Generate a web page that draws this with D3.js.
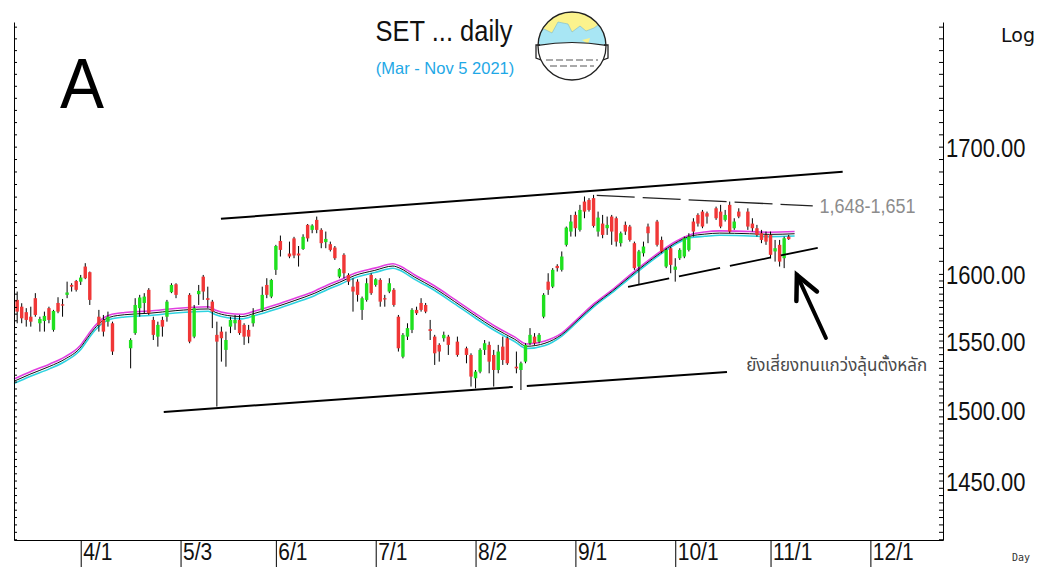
<!DOCTYPE html>
<html><head><meta charset="utf-8">
<script src="https://cdn.jsdelivr.net/npm/d3@7"></script>
<style>body{margin:0;background:#fff} svg{display:block}</style>
</head><body><svg id="chart" width="1038" height="567"></svg>
<script>
// ---------------- DATA ----------------
const startDate = "2021-03-12";          // first weekday slot shown
// daily OHLC per weekday slot (null = market holiday)
const open = [
1580.3,1575.2,1571.1,1567.7,1581.6,1562.8,1564.5,1574.1,1557.9,1578.0,
1577.0,1584.1,1591.6,1594.6,1594.1,1605.6,1601.3,null,1567.7,1565.3,
1564.0,1562.8,null,null,null,1544.3,1555.5,1574.1,1578.0,1587.9,
1565.3,1552.9,1565.3,1567.7,1586.1,1592.1,null,null,1584.1,1552.9,
1584.6,1597.9,1581.6,1579.0,1554.2,1556.6,1543.1,1560.3,1562.8,1565.3,
1561.6,1557.9,1562.8,null,1572.8,1591.6,1582.8,1603.1,1625.3,null,
1615.6,1627.3,1615.6,1619.1,1637.8,1633.9,1641.7,1633.9,1624.4,1622.8,
1620.2,1597.9,1614.6,1599.2,1590.3,1594.1,1572.8,1580.3,1599.2,1591.6,
1595.4,1581.6,1586.6,1587.9,1567.7,1538.1,1552.9,1557.9,1572.8,1578.0,
1576.5,1558.4,1552.9,1546.8,1551.7,1552.9,null,1549.2,null,1544.3,
1539.4,1522.4,1527.2,1543.1,1546.8,1539.4,1528.4,1545.5,1551.7,null,
1530.8,1528.4,1534.5,1548.0,1552.9,1549.2,1567.7,1594.1,1590.3,1606.1,
1603.1,1622.3,1632.6,1645.6,1633.9,1656.1,1657.4,1658.8,1632.6,1638.8,
1635.2,1644.3,1643.0,1623.6,1637.8,1636.5,1623.6,1605.6,1615.8,1636.5,
null,1640.4,1626.1,1605.6,1619.7,1603.1,1612.0,1613.3,1618.4,1640.4,
1645.6,1648.2,1646.9,null,1650.8,1648.2,1641.7,1653.5,1635.2,1648.2,
null,1648.2,1638.8,1635.2,1631.3,1630.0,1630.0,1617.2,1622.3,1612.0,1628.7];
const high = [
1586.6,1577.8,1574.1,1575.2,1585.4,1567.7,1571.5,1575.2,1572.8,1582.3,
1581.0,1594.1,1592.9,1595.4,1599.2,1608.2,1601.8,null,1572.8,1569.0,
1571.5,1564.0,null,null,null,1551.7,1581.6,1584.1,1585.4,1589.2,
1567.7,1564.0,1567.7,1580.3,1592.9,1592.9,null,null,1585.4,1576.5,
1591.6,1599.2,1590.3,1580.3,1564.0,1560.3,1556.6,1567.7,1569.0,1569.0,
1562.8,1561.6,1574.1,null,1590.3,1596.7,1596.2,1622.3,1629.5,null,
1624.8,1628.5,1621.4,1630.5,1638.5,1638.3,1644.3,1635.2,1632.6,1624.8,
1621.4,1604.4,1615.8,1600.5,1596.7,1595.9,1582.8,1596.7,1600.5,1596.7,
1596.7,1584.1,1596.7,1589.2,1569.0,1555.5,1562.8,1574.1,1575.2,1581.6,
1578.0,1565.3,1554.2,1548.0,1556.6,1554.2,null,1552.9,null,1545.5,
1540.6,1528.4,1544.3,1550.4,1549.2,1543.1,1546.8,1552.9,1552.9,null,
1541.9,1534.5,1548.0,1559.2,1555.5,1555.5,1585.4,1600.5,1604.4,1607.4,
1617.2,1636.5,1645.6,1648.2,1653.5,1660.1,1658.8,1661.4,1648.2,1645.6,
1644.3,1645.6,1644.3,1632.6,1640.4,1637.8,1624.8,1618.4,1624.8,1638.8,
null,1641.7,1628.7,1619.7,1621.0,1612.0,1619.7,1628.7,1631.3,1643.0,
1646.9,1649.5,1648.2,null,1652.1,1653.5,1649.5,1656.1,1643.0,1650.8,
null,1650.8,1643.0,1637.8,1633.9,1632.6,1632.6,1626.1,1626.1,1628.7,1630.0];
const low = [
1562.8,1562.8,1560.3,1560.3,1567.7,1556.6,1556.6,1562.8,1556.6,1570.3,
1567.7,1581.6,1586.6,1586.6,1591.6,1596.0,1576.5,null,1556.6,1553.0,
1560.3,1539.4,null,null,null,1529.6,1554.2,1567.7,1570.3,1569.0,
1550.4,1545.5,1552.9,1564.0,1585.4,1581.6,null,null,1548.0,1551.7,
1576.5,1580.3,1574.1,1559.2,1502.0,1534.5,1530.8,1555.5,1557.9,1554.2,
1546.8,1548.0,1560.3,null,1571.5,1581.6,1581.6,1599.2,1613.3,null,
1612.0,1612.0,1605.6,1618.4,1624.8,1631.3,1631.3,1619.7,1619.7,1617.2,
1610.7,1596.7,1596.7,1591.6,1571.5,1579.0,1565.3,1579.0,1584.1,1590.3,
1575.2,1575.2,1585.4,1575.2,1541.9,1536.9,1550.4,1555.5,1569.0,1571.5,
1570.3,1550.4,1532.1,1534.5,1549.2,1539.4,null,1538.1,null,1533.3,
1516.4,1515.1,1526.0,1539.4,1526.0,1516.4,1526.0,1532.1,1532.1,null,
1526.0,1513.9,1533.3,1546.8,1546.8,1548.0,1566.5,1584.1,1589.2,1601.8,
1601.8,1621.0,1628.7,1628.7,1632.6,1643.0,1648.2,1635.7,1628.7,1627.4,
1630.0,1622.3,1621.0,1621.0,1630.0,1624.8,1603.1,1591.6,1613.3,1623.6,
null,1621.0,1615.8,1604.4,1600.5,1594.1,1610.7,1612.0,1617.2,1628.7,
1636.5,1635.2,1638.8,null,1641.7,1635.2,1640.4,1631.3,1633.9,1643.0,
null,1633.9,1632.6,1628.7,1623.6,1622.3,1612.0,1609.4,1605.6,1604.4,1626.1];
const close = [
1571.5,1566.5,1565.3,1564.0,1569.0,1566.0,1568.3,1565.3,1572.0,1571.5,
1576.0,1585.9,1590.3,1587.9,1597.2,1596.7,1580.3,null,1561.6,1556.6,
1567.7,1541.9,null,null,null,1550.4,1576.5,1582.1,1582.8,1570.3,
1554.2,1561.6,1560.3,1579.0,1591.6,1584.1,null,null,1549.2,1574.1,
1587.1,1586.6,1580.3,1571.5,1549.2,1551.7,1550.4,1565.3,1565.3,1555.5,
1552.9,1552.9,1569.0,null,1584.1,1584.1,1595.4,1621.4,1618.4,null,
1613.3,1614.1,1614.1,1628.5,1627.3,1637.3,1633.9,1623.6,1626.9,1618.4,
1612.0,1603.6,1600.5,1594.1,1586.6,1584.1,1581.6,1592.9,1585.4,1595.9,
1579.0,1580.8,1592.9,1576.5,1544.3,1554.2,1559.2,1572.8,1570.3,1572.8,
1571.5,1557.1,1540.6,1541.9,1554.2,1546.8,null,1539.4,null,1539.4,
1523.6,1527.2,1543.1,1548.0,1534.5,1528.4,1541.9,1535.7,1533.3,null,
1529.6,1533.3,1546.8,1554.2,1548.0,1554.2,1584.1,1587.9,1603.1,1604.4,
1613.3,1635.7,1640.4,1635.2,1649.5,1648.2,1649.5,1637.0,1643.5,1630.0,
1637.8,1632.6,1624.8,1631.3,1632.6,1626.1,1604.4,1617.2,1621.0,1631.3,
null,1622.3,1617.2,1618.4,1606.9,1605.6,1618.4,1627.4,1628.7,1632.6,
1638.8,1636.5,1644.3,null,1643.0,1636.5,1645.6,1632.6,1640.4,1644.3,
null,1636.5,1635.2,1630.0,1626.1,1624.8,1614.6,1619.7,1609.4,1627.4,1626.7];

// moving averages (slot position, value)
const maSlot = [-0.7,2.8,7.2,10.5,13.8,15.6,17.1,18.7,20.4,23.7,29.2,34.8,42.1,43.6,46.4,49.5,52.4,56.8,61.2,65.6,
68.4,71.1,74.4,78.8,82.8,84.3,87.6,92.0,96.4,100.8,105.2,109.6,112.3,116.3,120.0,123.6,127.3,131.1,134.6,138.3,
141.6,144.9,148.2,151.5,154.8,161.4,165.8,171.3];
const maPink = [1521.9,1527.0,1532.8,1538.0,1546.0,1554.2,1560.8,1566.0,1569.0,1570.9,1572.0,1573.9,1575.2,1572.8,1570.3,1569.5,1572.0,1576.5,1581.6,1587.1,
1591.6,1595.4,1600.5,1604.4,1607.7,1606.1,1599.2,1590.8,1580.7,1570.5,1560.8,1552.7,1547.5,1549.7,1555.5,1566.5,1578.0,1587.9,1597.9,1608.2,
1616.8,1624.5,1630.0,1632.3,1633.1,1632.6,1632.1,1632.6];
const maBlack = [1520.2,1525.3,1531.1,1536.3,1544.3,1552.5,1559.1,1564.3,1567.3,1569.2,1570.3,1572.2,1573.5,1571.1,1568.6,1567.8,1570.3,1574.8,1579.9,1585.4,
1589.9,1593.7,1598.8,1602.7,1606.0,1604.4,1597.5,1589.1,1579.0,1568.8,1559.1,1551.0,1545.8,1548.0,1554.4,1565.4,1576.9,1586.8,1596.8,1607.1,
1615.7,1623.4,1628.9,1630.6,1631.4,1630.9,1630.4,1630.9];
const maCyan = [1518.5,1523.6,1529.4,1534.6,1542.6,1550.8,1557.4,1562.6,1565.6,1567.5,1568.6,1570.5,1571.8,1569.4,1566.9,1566.1,1568.6,1573.1,1578.2,1583.7,
1588.2,1592.0,1597.1,1601.0,1604.3,1602.7,1595.8,1587.4,1577.3,1567.1,1557.4,1549.3,1544.1,1546.3,1553.3,1564.3,1575.8,1585.7,1595.7,1606.0,
1614.6,1622.3,1627.8,1628.9,1629.7,1629.2,1628.7,1629.2];

// axis
const tickDates  = ["2021-04-01","2021-05-03","2021-06-01","2021-07-01","2021-08-02","2021-09-01","2021-10-01","2021-11-01","2021-12-01"];
const tickLabels = ["4/1","5/3","6/1","7/1","8/2","9/1","10/1","11/1","12/1"];
const yMajor = [1450,1500,1550,1600,1700];

// drawn trend lines / annotations: [slot, value]
const channelTop   = [[44.9,1642.5],[181.9,1679.7]];
const channelBotA  = [[32.3,1498.2],[109.2,1516.1]];
const channelBotB  = [[112.3,1516.8],[156.4,1527.0]];
const resistDash   = [[127.7,1661.0],[175.3,1652.7]];
const supportDash  = [[134.6,1590.1],[176.4,1620.0]];
const arrowTail = [178.2,1551.9], arrowTip = [171.8,1599.2];
const resistLabel = {slot:176.8, value:1652.4, text:"1,648-1,651"};
const noteLabel = {slot:180.8, value:1528.0, text:"ยังเสี่ยงทนแกว่งลุ้นตั้งหลัก"};

// ---------------- CHART ----------------
const svg = d3.select("#chart");
const parse = d3.utcParse("%Y-%m-%d");
const t0 = parse(startDate);
const isWeekday = d => d.getUTCDay() !== 0 && d.getUTCDay() !== 6;
const slotOf = date => d3.utcDay.range(t0, date).filter(isWeekday).length;

const x = d3.scaleLinear().domain([-0.7, 204]).range([14, 943]);
const y = d3.scaleLog().domain([1409.5, 1804]).range([540, 22]);

const GREEN = "#1fe01f", RED = "#f03737";
const candles = open.map((o, i) => ({i, o, h: high[i], l: low[i], c: close[i]})).filter(d => d.o != null);

// moving averages
const maLine = vals => d3.line().curve(d3.curveMonotoneX)
  .x((d, k) => x(maSlot[k])).y(d => y(d))(vals);
svg.append("path").attr("d", maLine(maPink)).attr("fill","none").attr("stroke","#e23fe0").attr("stroke-width",1.6);
svg.append("path").attr("d", maLine(maCyan)).attr("fill","none").attr("stroke","#2ed3e0").attr("stroke-width",1.6);
svg.append("path").attr("d", maLine(maBlack)).attr("fill","none").attr("stroke","#111").attr("stroke-width",1);

// candles
const cg = svg.append("g");
cg.selectAll("line").data(candles).join("line")
  .attr("x1", d => x(d.i)).attr("x2", d => x(d.i))
  .attr("y1", d => y(d.h)).attr("y2", d => y(d.l))
  .attr("stroke", "#000").attr("stroke-width", 1);
const bw = 3.4;
cg.selectAll("rect").data(candles).join("rect")
  .attr("x", d => x(d.i) - bw/2).attr("width", bw)
  .attr("y", d => y(Math.max(d.o, d.c)))
  .attr("height", d => Math.max(1.3, Math.abs(y(d.o) - y(d.c))))
  .attr("fill", d => d.c >= d.o ? GREEN : RED);

// trend lines
const seg = pts => d3.line().x(d => x(d[0])).y(d => y(d[1]))(pts);
svg.append("path").attr("d", seg(channelTop)).attr("stroke","#000").attr("stroke-width",2).attr("fill","none");
svg.append("path").attr("d", seg(channelBotA)).attr("stroke","#000").attr("stroke-width",2).attr("fill","none");
svg.append("path").attr("d", seg(channelBotB)).attr("stroke","#000").attr("stroke-width",2).attr("fill","none");
svg.append("path").attr("d", seg(resistDash)).attr("stroke","#222").attr("stroke-width",1.3)
  .attr("stroke-dasharray","38,8").attr("fill","none");
svg.append("path").attr("d", seg(supportDash)).attr("stroke","#000").attr("stroke-width",1.8)
  .attr("stroke-dasharray","42,10").attr("fill","none");

// arrow
(() => {
  const tx = x(arrowTip[0]), ty = y(arrowTip[1]), sx = x(arrowTail[0]), sy = y(arrowTail[1]);
  const ang = Math.atan2(sy - ty, sx - tx), L = 26, spread = 0.45;
  const a1 = [tx + L*Math.cos(ang - spread), ty + L*Math.sin(ang - spread)];
  const a2 = [tx + L*Math.cos(ang + spread), ty + L*Math.sin(ang + spread)];
  svg.append("path").attr("d", `M${sx},${sy}L${tx},${ty}`).attr("stroke","#000").attr("stroke-width",4).attr("stroke-linecap","round");
  svg.append("path").attr("d", `M${a1[0]},${a1[1]}L${tx},${ty}L${a2[0]},${a2[1]}`)
    .attr("stroke","#000").attr("stroke-width",4.5).attr("fill","none").attr("stroke-linejoin","miter").attr("stroke-linecap","round");
})();

// annotation texts
svg.append("text").attr("transform", `translate(${x(resistLabel.slot)},${y(resistLabel.value)}) scale(1,1.1)`)
  .attr("dy","0.35em").attr("font-family","Liberation Sans, Arial, sans-serif").attr("font-size",18)
  .attr("fill","#8c8c8c").text(resistLabel.text);
svg.append("text").attr("x", x(noteLabel.slot) - 1).attr("y", y(noteLabel.value))
  .attr("text-anchor","middle").attr("font-family","Noto Sans Thai, Loma, Tahoma, Noto Sans, sans-serif").attr("font-size",17)
  .attr("fill","#4a4a4a").text(noteLabel.text);

// axes
const minorTicks = d3.range(1410, 1600, 5).concat(d3.range(1600, 1801, 10));
const leftAx = svg.append("g").attr("transform","translate(14,0)")
  .call(d3.axisRight(y).tickValues(minorTicks).tickSizeInner(3).tickSizeOuter(0).tickFormat(""));
const rightAx = svg.append("g").attr("transform","translate(943,0)")
  .call(d3.axisRight(y).tickValues(minorTicks).tickSizeInner(-4).tickSizeOuter(0).tickFormat(""));
const rightLab = svg.append("g").attr("transform","translate(943,0)")
  .call(d3.axisRight(y).tickValues(yMajor).tickSize(0).tickPadding(3).tickFormat(d3.format(".2f")));
rightLab.select(".domain").remove();
rightLab.selectAll("text").attr("font-family","Liberation Sans, Arial, sans-serif").attr("font-size",22)
  .attr("fill","#111").attr("transform","scale(1,1.2)").attr("dy","0.3em").attr("y",1.5);

const bottomAx = svg.append("g").attr("transform","translate(0,540)")
  .call(d3.axisBottom(x).tickValues(tickDates.map(d => slotOf(parse(d))))
    .tickFormat((d, k) => tickLabels[k]).tickSizeInner(27).tickSizeOuter(0));
bottomAx.selectAll("text").attr("font-family","Liberation Sans, Arial, sans-serif").attr("font-size",21)
  .attr("fill","#111").attr("text-anchor","start").attr("x",2).attr("dy",0)
  .attr("transform","scale(1,1.15)").attr("y",17.4);
[leftAx, rightAx, bottomAx].forEach(g => g.selectAll("path,line").attr("stroke","#000"));

// titles
svg.append("text").attr("transform","translate(60,108) scale(1,1.08)")
  .attr("font-family","Liberation Sans, Arial, sans-serif").attr("font-size",66).attr("fill","#000").text("A");
svg.append("text").attr("transform","translate(444,41) scale(1,1.15)").attr("text-anchor","middle")
  .attr("font-family","Liberation Sans, Arial, sans-serif").attr("font-size",25.5).attr("fill","#111").text("SET ... daily");
svg.append("text").attr("x",445).attr("y",74).attr("text-anchor","middle")
  .attr("font-family","Liberation Sans, Arial, sans-serif").attr("font-size",16.5).attr("fill","#1ea8e6").text("(Mar - Nov 5 2021)");
svg.append("text").attr("x",1001).attr("y",42)
  .attr("font-family","DejaVu Sans, sans-serif").attr("font-size",19).attr("fill","#111").text("Log");
svg.append("text").attr("x",1012).attr("y",561)
  .attr("font-family","DejaVu Sans Mono, monospace").attr("font-size",10).attr("fill","#333").text("Day");

// globe-with-mask logo
(() => {
  const g = svg.append("g").attr("transform","translate(572,46)");
  const defs = svg.append("defs");
  defs.append("clipPath").attr("id","globeClip").append("circle").attr("r",34);
  g.append("circle").attr("r",34).attr("fill","#fbf38d");
  const inner = g.append("g").attr("clip-path","url(#globeClip)");
  inner.append("path").attr("d","M-36,-12 L-28,-17 L-20,-13 L-14,-24 L-4,-22 L0,-14 L8,-20 L14,-15 L22,-18 L30,-24 L36,-16 L36,8 L26,6 L18,10 L8,4 L-2,8 L-12,4 L-22,7 L-36,4 Z")
    .attr("fill","#a8e6f4").attr("stroke","#7fb8c8").attr("stroke-width",0.6);
  inner.append("path").attr("d","M-28,-26 L-22,-22 L-26,-18 Z M10,-6 L18,-8 L16,-2 Z").attr("fill","#fbf38d");
  inner.append("path").attr("d","M-38,0 Q0,-7 38,0 L38,40 L-38,40 Z").attr("fill","#fff").attr("stroke","#222").attr("stroke-width",1.2);
  inner.append("line").attr("x1",-26).attr("x2",26).attr("y1",14).attr("y2",14).attr("stroke","#555").attr("stroke-width",1.2).attr("stroke-dasharray","7,3");
  inner.append("line").attr("x1",-22).attr("x2",22).attr("y1",20).attr("y2",20).attr("stroke","#555").attr("stroke-width",1.2).attr("stroke-dasharray","7,3");
  g.append("circle").attr("r",34).attr("fill","none").attr("stroke","#222").attr("stroke-width",1.3);
  g.append("path").attr("d","M-32,-1 L-36,-1 L-36,12 L-31,14").attr("fill","none").attr("stroke","#222").attr("stroke-width",1.3);
  g.append("path").attr("d","M32,-1 L36,-1 L36,12 L31,14").attr("fill","none").attr("stroke","#222").attr("stroke-width",1.3);
})();
</script>
</body></html>
